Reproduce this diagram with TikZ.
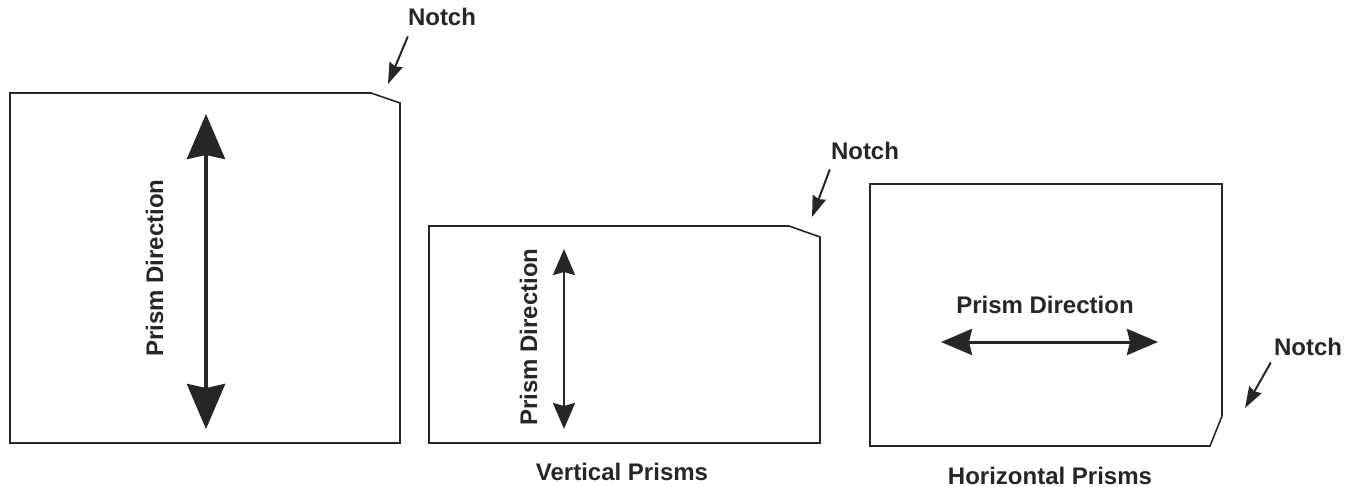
\documentclass[tikz,border=0pt]{standalone}
\usepackage{fontspec}
\setmainfont{Liberation Sans}
\usetikzlibrary{arrows.meta}
\usetikzlibrary{positioning}

\begin{document}
\begin{tikzpicture}[x=1pt,y=-1pt,
    wafer/.style={draw=black!85, line width=1.6pt, line join=miter},
    lbl/.style={font=\fontsize{24}{28}\selectfont\bfseries, text=black!85, inner sep=0pt},
    bigdir/.style={draw=black!85, line width=4pt,
        {Stealth[length=45pt,width=38pt,inset=4pt]}-{Stealth[length=45pt,width=38pt,inset=4pt]}},
    smalldir/.style={draw=black!85, line width=2.5pt,
        {Stealth[length=26pt,width=22pt,inset=3pt]}-{Stealth[length=26pt,width=22pt,inset=3pt]}},
    middir/.style={draw=black!85, line width=3pt,
        {Stealth[length=31pt,width=26pt,inset=3pt]}-{Stealth[length=31pt,width=26pt,inset=3pt]}},
    notcharrow/.style={draw=black!85, line width=2pt, -{Stealth[length=21pt,width=14pt,inset=2pt]}}]

    \fill[white] (0,0) rectangle (1360,487);
    \useasboundingbox (0,0) rectangle (1360,487);

    % wafers
    \draw[wafer] (10,93) -- (371,93) -- (400,103) -- (400,443) -- (10,443) -- cycle;
    \draw[wafer] (429,226) -- (789,226) -- (820,237) -- (820,443) -- (429,443) -- cycle;
    \draw[wafer] (870,184) -- (1222,184) -- (1222,416) -- (1210,446) -- (870,446) -- cycle;

    % prism directions
    \coordinate (d_0a) at (206,114);
    \coordinate (d_0b) at (206,429);
    \node[lbl, rotate=90, anchor=base] (t_0) at (163,268) {Prism Direction};
    \draw[bigdir] (d_0a) -- (d_0b);

    \coordinate (d_1a) at (564,249);
    \coordinate (d_1b) at (564,429);
    \node[lbl, rotate=90, anchor=base] (t_1) at (537,337) {Prism Direction};
    \draw[smalldir] (d_1a) -- (d_1b);

    \coordinate (d_2a) at (941,342);
    \coordinate (d_2b) at (1158,342);
    \node[lbl, anchor=base] (t_2) at (1045,313) {Prism Direction};
    \draw[middir] (d_2a) -- (d_2b);

    % notches
    \node[lbl, anchor=base] (n_0) at (442,26) {Notch};
    \coordinate (c_0) at (388,84);
    \draw[notcharrow] ([yshift=-10pt]n_0.south west) -- (c_0);

    \node[lbl, anchor=base] (n_1) at (865,159) {Notch};
    \coordinate (c_1) at (812,217);
    \draw[notcharrow] ([xshift=-1pt,yshift=-10pt]n_1.south west) -- (c_1);

    \node[lbl, anchor=base] (n_2) at (1308,355) {Notch};
    \coordinate (c_2) at (1245,408);
    \draw[notcharrow] ([xshift=-3pt,yshift=-7pt]n_2.south west) -- (c_2);

    % captions
    \node[lbl, anchor=base] (cap_v) at (622,480) {Vertical Prisms};
    \node[lbl, anchor=base] (cap_h) at (1050,484) {Horizontal Prisms};

\end{tikzpicture}
\end{document}
